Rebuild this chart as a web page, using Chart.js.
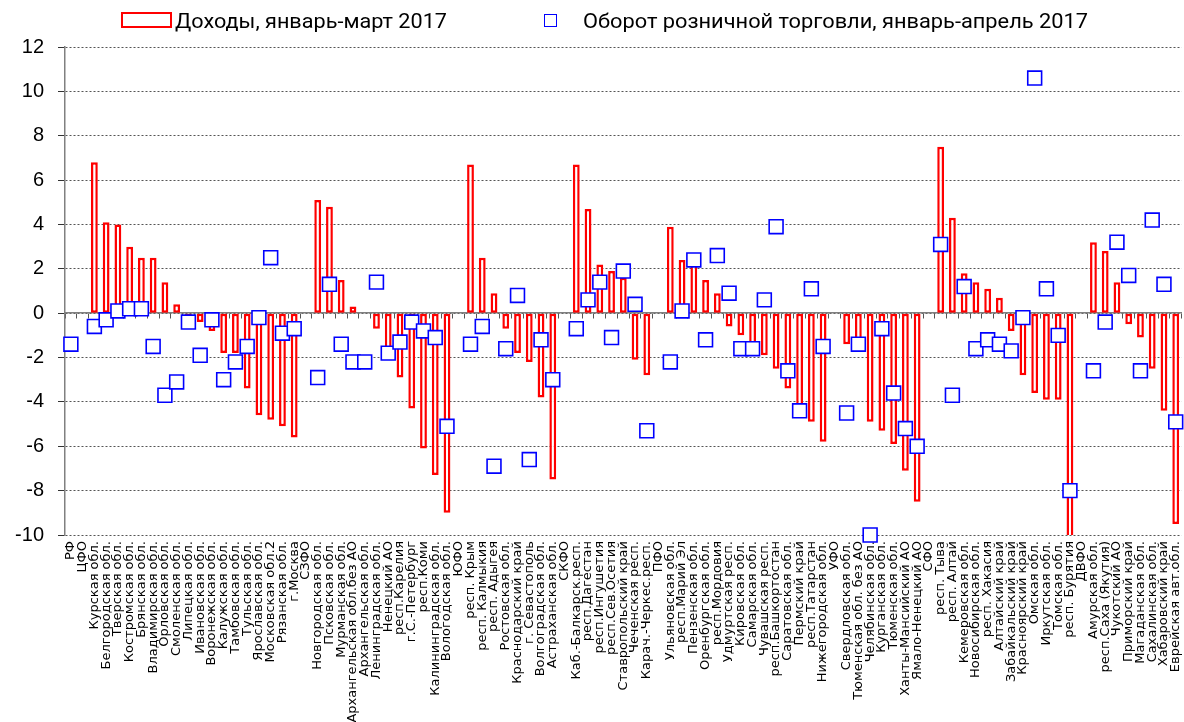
<!DOCTYPE html>
<html><head><meta charset="utf-8">
<script src="https://cdn.jsdelivr.net/npm/chart.js@4"></script>
<style>
html,body{margin:0;padding:0;background:#fff;overflow:hidden}
#wrap{position:relative;width:1184px;height:722px;overflow:hidden}
#c{position:absolute;left:0;top:0}
.lg{position:absolute;top:10px;font-family:"Liberation Sans Narrow","Roboto","Liberation Sans",sans-serif;font-size:20px;line-height:22px;color:#000;white-space:nowrap;transform-origin:0 50%}
.k1{position:absolute;left:121px;top:12px;width:47px;height:12px;border:2.5px solid #f00;background:#fff}
.k2{position:absolute;left:544px;top:14px;width:11px;height:11px;border:1.5px solid #00f;background:#fff}
</style></head>
<body>
<div id="wrap">
<canvas id="c" width="1193" height="722"></canvas>
<div class="k1"></div><span class="lg" id="t1" style="left:175px">Доходы, январь-март 2017</span>
<div class="k2"></div><span class="lg" id="t2" style="left:583px">Оборот розничной торговли, январь-апрель 2017</span>
</div>
<script>
const categories = ["РФ","ЦФО","Курская обл.","Белгородская обл.","Тверская обл.","Костромская обл.","Брянская обл.","Владимирская обл.","Орловская обл.","Смоленская обл.","Липецкая обл.","Ивановская обл.","Воронежская обл.","Калужская обл.","Тамбовская обл.","Тульская обл.","Ярославская обл.","Московская обл.2","Рязанская обл.","г.Москва",
"СЗФО","Новгородская обл.","Псковская обл.","Мурманская обл.","Архангельская обл.без АО","Архангельская обл.","Ленинградская обл.","Ненецкий АО","респ.Карелия","г.С.-Петербург","респ.Коми","Калининградская обл.","Вологодская обл.",
"ЮФО","респ. Крым","респ. Калмыкия","респ. Адыгея","Ростовская обл.","Краснодарский край","г. Севастополь","Волгоградская обл.","Астраханская обл.",
"СКФО","Каб.-Балкарск.респ.","респ.Дагестан","респ.Ингушетия","респ.Сев.Осетия","Ставропольский край","Чеченская респ.","Карач.-Черкес.респ.",
"ПФО","Ульяновская обл.","респ.Марий Эл","Пензенская обл.","Оренбургская обл.","респ.Мордовия","Удмуртская респ.","Кировская обл.","Самарская обл.","Чувашская респ.","респ.Башкортостан","Саратовская обл.","Пермский край","респ.Татарстан","Нижегородская обл.",
"УФО","Свердловская обл.","Тюменская обл. без АО","Челябинская обл.","Курганская обл.","Тюменская обл.","Ханты-Мансийский АО","Ямало-Ненецкий АО",
"СФО","респ. Тыва","респ. Алтай","Кемеровская обл.","Новосибирская обл.","респ. Хакасия","Алтайский край","Забайкальский край","Красноярский край","Омская обл.","Иркутская обл.","Томская обл.","респ. Бурятия",
"ДВФО","Амурская обл.","респ.Саха (Якутия)","Чукотский АО","Приморский край","Магаданская обл.","Сахалинская обл.","Хабаровский край","Еврейская авт.обл."];

const incomeJanMar2017 = [null,null,6.8,4.1,4.0,3.0,2.5,2.5,1.4,0.4,-0.1,-0.4,-0.8,-1.8,-1.8,-3.4,-4.6,-4.8,-5.1,-5.6,
null,5.1,4.8,1.5,0.3,null,-0.7,-1.9,-2.9,-4.3,-6.1,-7.3,-9.0,
null,6.7,2.5,0.9,-0.7,-1.8,-2.2,-3.8,-7.5,
null,6.7,4.7,2.2,1.9,1.6,-2.1,-2.8,
null,3.9,2.4,2.2,1.5,0.9,-0.6,-1.0,-1.5,-1.9,-2.5,-3.4,-4.3,-4.9,-5.8,
null,-1.4,-1.3,-4.9,-5.3,-5.9,-7.1,-8.5,
null,7.5,4.3,1.8,1.4,1.1,0.7,-0.8,-2.8,-3.6,-3.9,-3.9,-10.4,
null,3.2,2.8,1.4,-0.5,-1.1,-2.5,-4.4,-9.5];

const retailJanApr2017 = [-1.4,null,-0.6,-0.3,0.1,0.2,0.2,-1.5,-3.7,-3.1,-0.4,-1.9,-0.3,-3.0,-2.2,-1.5,-0.2,2.5,-0.9,-0.7,
null,-2.9,1.3,-1.4,-2.2,-2.2,1.4,-1.8,-1.3,-0.4,-0.8,-1.1,-5.1,
null,-1.4,-0.6,-6.9,-1.6,0.8,-6.6,-1.2,-3.0,
null,-0.7,0.6,1.4,-1.1,1.9,0.4,-5.3,
null,-2.2,0.1,2.4,-1.2,2.6,0.9,-1.6,-1.6,0.6,3.9,-2.6,-4.4,1.1,-1.5,
null,-4.5,-1.4,-10.0,-0.7,-3.6,-5.2,-6.0,
null,3.1,-3.7,1.2,-1.6,-1.2,-1.4,-1.7,-0.2,10.6,1.1,-1.0,-8.0,
null,-2.6,-0.4,3.2,1.7,-2.6,4.2,1.3,-4.9];

const yMin = -10, yMax = 12, yStep = 2;

function fitText(id, w){
  const el = document.getElementById(id);
  const r = el.getBoundingClientRect().width;
  if (r > 0) el.style.transform = 'scaleX(' + (w / r) + ')';
}
fitText('t1', 272);
fitText('t2', 505);

new Chart(document.getElementById('c'), {
  type: 'bar',
  data: {
    labels: categories,
    datasets: [
      {
        type: 'line',
        label: 'Оборот розничной торговли, январь-апрель 2017',
        data: retailJanApr2017,
        showLine: false,
        pointStyle: 'rect',
        pointRadius: 9.8,
        pointHoverRadius: 9.8,
        pointBorderColor: '#0000ff',
        pointBackgroundColor: '#ffffff',
        pointBorderWidth: 1.6,
        order: 1,
        clip: false
      },
      {
        type: 'bar',
        label: 'Доходы, январь-март 2017',
        data: incomeJanMar2017,
        backgroundColor: '#ffffff',
        borderColor: '#ff0000',
        borderWidth: 2.5,
        borderSkipped: false,
        barPercentage: 0.58,
        categoryPercentage: 1,
        order: 2
      }
    ]
  },
  options: {
    responsive: false,
    animation: false,
    layout: { padding: { top: 47, right: 0, bottom: 0, left: 0 } },
    plugins: { legend: { display: false }, tooltip: { enabled: false } },
    scales: {
      x: {
        type: 'category',
        offset: true,
        grid: { display: false, drawTicks: false },
        border: { display: false },
        ticks: { autoSkip: false, maxRotation: 90, minRotation: 90, padding: 6, color: '#000',
                 font: { family: 'DejaVu Sans', size: 13 } },
        afterFit: s => { s.height = 187; s.paddingLeft = 0; s.paddingRight = 0; }
      },
      x2: {
        type: 'category',
        axis: 'x',
        labels: categories,
        position: { y: 0 },
        offset: true,
        grid: { offset: true, drawOnChartArea: false, drawTicks: true, tickLength: 5, tickColor: '#555', tickWidth: 1 },
        border: { display: true, color: '#808080', width: 1.5 },
        ticks: { display: false },
        afterFit: s => { s.paddingLeft = 0; s.paddingRight = 0; }
      },
      y: {
        min: yMin, max: yMax,
        ticks: { stepSize: yStep, padding: 14, color: '#000', font: { family: 'Liberation Sans', size: 20 } },
        grid: { color: '#555', lineWidth: 1, tickColor: '#333', tickLength: 7, tickBorderDash: [] },
        border: { display: true, color: '#808080', width: 1.5, dash: [2, 2] },
        afterFit: s => { s.width = 65; }
      }
    }
  }
});
</script>
</body></html>
